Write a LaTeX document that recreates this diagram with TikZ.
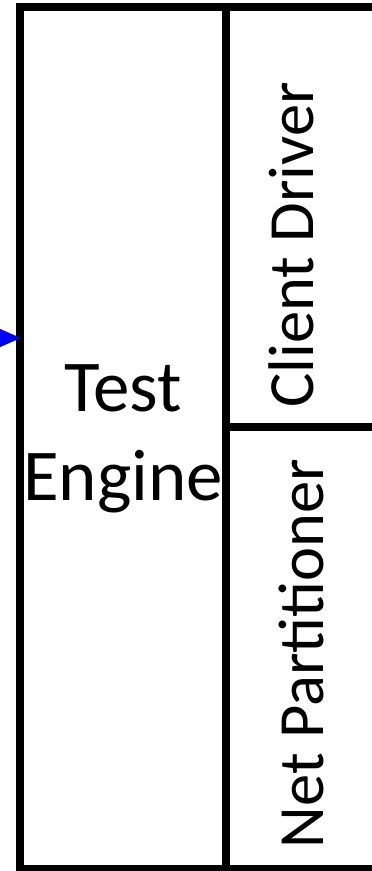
\documentclass[tikz,border=0pt]{standalone}
\usepackage{fontspec}
\setmainfont{Carlito}
\usetikzlibrary{arrows.meta,positioning}

\begin{document}
\begin{tikzpicture}[x=1pt,y=-1pt,
	frame/.style={line width=8pt},
	lbl/.style={inner sep=0pt, align=center},
	side/.style={lbl, rotate=90, font=\fontsize{64.5}{77}\selectfont}]
\useasboundingbox (0,0) rectangle (372,871);
\clip (0,0) rectangle (372,871);

	% boxes
	\draw[frame] (20,7) rectangle (400,869);
	\draw[frame] (226,7) -- (226,869);
	\draw[frame] (226,427) -- (400,427);

	% labels
	\node[lbl, font=\fontsize{73}{89}\selectfont] (engine) at (123,439) {Test\\Engine};
	\node[side] (client) at (291,245) {Client Driver};
	\node[side] (netpart) at (301,653.5) {Net Partitioner};

	% input arrow
	\coordinate (feed) at (21,338);
	\coordinate (src) at (-40,338);
	\draw[blue, line width=3pt, -{Triangle[length=24pt,width=20pt]}] (src) -- (feed);

\end{tikzpicture}
\end{document}
